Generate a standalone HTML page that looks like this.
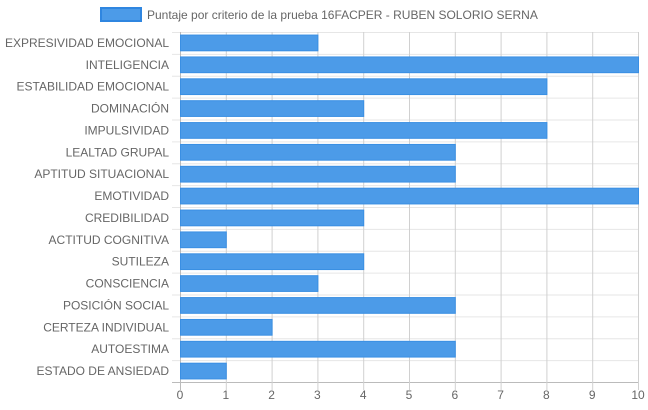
<!DOCTYPE html>
<html><head><meta charset="utf-8"><style>
html,body{margin:0;padding:0;background:#fff;width:648px;height:410px;overflow:hidden}
text{font-family:"Liberation Sans",Arial,sans-serif;font-size:12px;fill:#666}
</style></head><body>
<svg id="chart" width="648" height="410" xmlns="http://www.w3.org/2000/svg">
<g>
<rect x="101" y="8" width="40" height="13" fill="#4c9be8" stroke="#2f86e0" stroke-width="2"/>
<text x="147" y="19">Puntaje por criterio de la prueba 16FACPER - RUBEN SOLORIO SERNA</text>
</g>
<g id="grid"></g><g id="bars"></g><g id="labels"></g>
</svg>
<script>
const categories=["EXPRESIVIDAD EMOCIONAL","INTELIGENCIA","ESTABILIDAD EMOCIONAL","DOMINACIÓN","IMPULSIVIDAD","LEALTAD GRUPAL","APTITUD SITUACIONAL","EMOTIVIDAD","CREDIBILIDAD","ACTITUD COGNITIVA","SUTILEZA","CONSCIENCIA","POSICIÓN SOCIAL","CERTEZA INDIVIDUAL","AUTOESTIMA","ESTADO DE ANSIEDAD"];
const values=[3,10,8,4,8,6,6,10,4,1,4,3,6,2,6,1];
const xTicks=[0,1,2,3,4,5,6,7,8,9,10];
const NS="http://www.w3.org/2000/svg";
const L=180,R=638,T=32,B=382,xMax=10;
const x=v=>L+(R-L)*v/xMax;
const rowH=(B-T)/categories.length;
const y=i=>T+rowH*i;
function mk(tag,attrs,parent){const e=document.createElementNS(NS,tag);for(const k in attrs)e.setAttribute(k,attrs[k]);parent.appendChild(e);return e;}
const grid=document.getElementById('grid'),bars=document.getElementById('bars'),labels=document.getElementById('labels');
for(let i=0;i<=categories.length;i++){
 const ln=mk('line',{x1:172,x2:R,y1:y(i)+0.5,y2:y(i)+0.5,stroke:i==categories.length?'#bbb':'#e6e6e6'},grid);
 
 
}
xTicks.forEach(t=>{
 const ln=mk('line',{x1:x(t)+0.5,x2:x(t)+0.5,y1:T,y2:B+8,stroke:t==0?'#bbb':'#d0d0d0'},grid);
 
 
 const tx=mk('text',{x:x(t),y:399,'text-anchor':'middle'},labels);
 tx.textContent=t;
 
 
});
categories.forEach((c,i)=>{
 const h=rowH*0.72,by=y(i)+(rowH-h)/2;
 const r=mk('rect',{x:x(0)+0.5,y:by,width:x(values[i])-x(0),height:h,fill:'#4c9be8',stroke:'#3a8fe3','stroke-width':1},bars);
 
 
 const tx=mk('text',{x:169,y:y(i)+rowH/2+4,'text-anchor':'end'},labels);
 tx.textContent=c;
 
 
});
</script>
</body></html>
